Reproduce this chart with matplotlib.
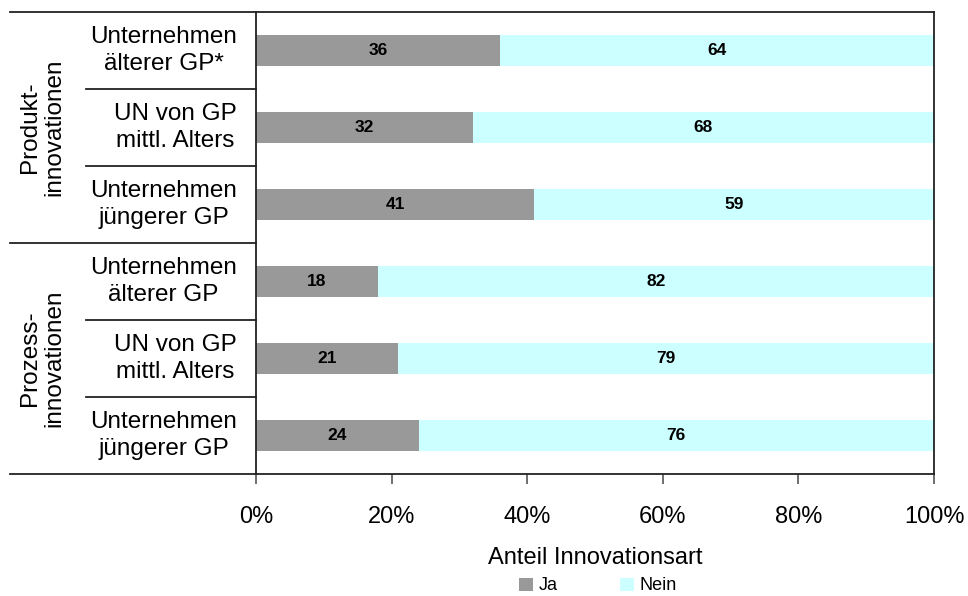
import numpy as np
import matplotlib.pyplot as plt
from matplotlib.lines import Line2D
from matplotlib.patches import Patch

plt.rcParams['font.family'] = ['Liberation Sans', 'DejaVu Sans']

# Daten
zeilen = ["Unternehmen\nälterer GP*", "UN von GP\nmittl. Alters", "Unternehmen\njüngerer GP",
          "Unternehmen\nälterer GP", "UN von GP\nmittl. Alters", "Unternehmen\njüngerer GP"]
gruppen = ["Produkt-\ninnovationen", "Prozess-\ninnovationen"]
ja = [36, 32, 41, 18, 21, 24]
nein = [64, 68, 59, 82, 79, 76]
x_ticks = [0, 20, 40, 60, 80, 100]

grau = '#999999'
cyan = '#CCFFFF'
linie = '#222222'

fig = plt.figure(figsize=(9.68, 5.96), dpi=100)
ax = fig.add_axes([256 / 968, 1 - 474 / 596, 678 / 968, 462 / 596])

y = np.arange(len(zeilen))
ax.barh(y, ja, height=0.4, color=grau, label='Ja')
ax.barh(y, nein, left=ja, height=0.4, color=cyan, label='Nein')

# Werte in die Balken
for i in range(len(zeilen)):
    ax.text(ja[i] / 2, y[i], str(ja[i]), ha='center', va='center',
            fontsize=12.5, fontweight='bold')
    ax.text(ja[i] + nein[i] / 2, y[i], str(nein[i]), ha='center', va='center',
            fontsize=12.5, fontweight='bold')

ax.set_xlim(0, 100)
ax.set_ylim(len(zeilen) - 0.5, -0.5)
ax.set_xticks(x_ticks)
ax.set_xticklabels([f"{t}%" for t in x_ticks], fontsize=17)
ax.tick_params(axis='x', direction='out', length=7, width=1.2, color='#555555', pad=16)
ax.set_yticks([])
for s in ax.spines.values():
    s.set_color(linie)
    s.set_linewidth(1.3)

ax.set_xlabel("Anteil Innovationsart", fontsize=17, labelpad=14)

# Zeilenbeschriftungen
trans = ax.get_yaxis_transform()
for i, lab in enumerate(zeilen):
    ax.text(-19 / 678, y[i], lab, transform=trans, ha='right', va='center',
            multialignment='center', fontsize=17.5, linespacing=1.25)

# Trennlinien im Beschriftungsbereich
x_kurz = (86 - 256) / 678
x_lang = (10 - 256) / 678
for yy in [0.5, 1.5, 3.5, 4.5]:
    ax.add_line(Line2D([x_kurz, 0], [yy, yy], transform=trans, color=linie,
                       lw=1.3, clip_on=False))
for yy in [-0.5, 2.5, 5.5]:
    ax.add_line(Line2D([x_lang, 0], [yy, yy], transform=trans, color=linie,
                       lw=1.3, clip_on=False))

# Gruppen
for g, lab in enumerate(gruppen):
    ax.text((42 - 256) / 678, 3 * g + 1, lab, transform=trans, ha='center',
            va='center', rotation=90, multialignment='center', fontsize=17.5,
            linespacing=1.15)

handles = [Patch(facecolor=grau, label='Ja'), Patch(facecolor=cyan, label='Nein')]
fig.legend(handles=handles, loc='center', bbox_to_anchor=(598 / 968, 1 - 586 / 596),
           ncol=2, frameon=False, fontsize=13, handlelength=0.75, handleheight=0.75,
           handletextpad=0.3, columnspacing=3.5)

fig.savefig('out.png', dpi=100)
